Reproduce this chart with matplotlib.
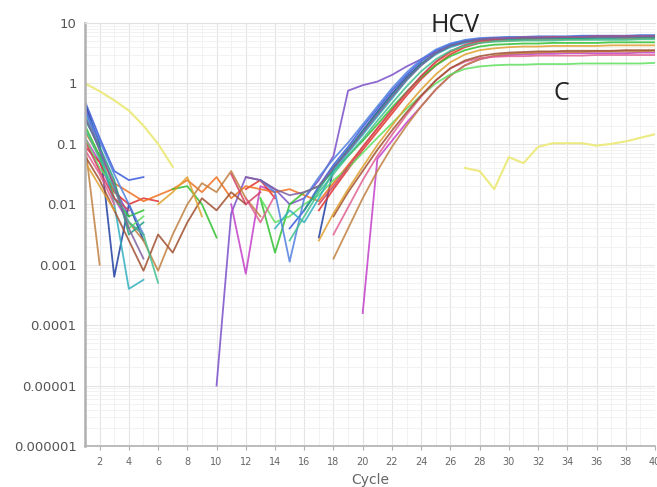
import numpy as np
import matplotlib
matplotlib.use("Agg")
import matplotlib.pyplot as plt
from matplotlib.ticker import FixedLocator, LogLocator, NullFormatter

N = np.nan

cycles = np.arange(1, 41)

# log10 of the fluorescence, cycles 1-16 (baseline noise)
# and cycles 17-40 (amplification), NaN where the trace is not drawn
hcv_colors = [
    "#3b5bdb", "#1f3fa0", "#7a4fc9", "#c23fc9", "#e03030", "#f07020",
    "#c08040", "#30c030", "#60e060", "#30b0c0", "#20a080", "#e06090",
    "#a05030", "#5080e0", "#d04060", "#40c090", "#8060a0", "#e0a030",
]

hcv_noise = [
    [-0.3, -0.9, -1.45, -1.6, -1.55, N, N, N, N, N, N, N, N, N, -2.4, -2.1],
    [-0.35, -1.0, -3.2, -2.0, -2.6, N, N, N, N, N, N, N, N, N, N, N],
    [-0.4, -1.1, -1.7, -2.2, N, N, N, N, N, -5.0, -2.15, -1.55, -1.6, -1.75, -2.0, -1.9],
    [-0.9, -1.3, -1.9, -2.3, -2.5, N, N, N, N, N, -2.0, -3.15, -1.7, -1.8, N, N],
    [-1.05, -1.3, -1.8, -2.0, -1.9, -1.95, N, N, N, N, N, -1.75, -1.6, -1.9, N, N],
    [-0.8, -1.2, -1.65, -1.8, -1.95, -1.85, -1.75, -1.6, -1.8, -1.55, -1.9, -1.7, -1.75, -1.8, -1.75, -1.85],
    [-1.0, -3.0, N, -2.3, -2.6, -3.1, -2.5, -2.0, -1.65, -1.8, -1.45, -1.9, -2.2, N, N, N],
    [-0.7, -1.2, -1.9, -2.2, -2.1, N, -1.75, -1.7, -2.0, -2.55, N, N, -1.9, -2.8, -2.0, -1.8],
    [-0.9, -1.4, -1.7, -2.4, -2.2, N, N, N, N, N, N, N, -1.9, -2.3, -2.2, -2.0],
    [-0.5, -1.1, -2.0, -3.4, -3.25, N, N, N, N, N, N, N, N, -2.4, -2.1, -2.3],
    [-0.6, -1.05, -1.6, -2.5, -2.3, N, N, N, N, N, N, N, N, N, N, -2.1],
    [-1.1, -1.5, -2.0, N, N, N, N, N, N, N, N, -1.9, -2.3, -1.85, N, N],
    [-1.2, -1.6, -2.1, -2.6, -3.1, -2.5, -2.8, -2.3, -1.9, -2.1, -1.8, -2.0, N, N, N, N],
    [-0.45, -0.95, -1.5, -2.0, -2.5, N, N, N, N, N, N, N, -1.6, -1.8, -2.95, -1.9],
    [-0.95, -1.45, -1.9, -2.1, N, N, N, N, N, N, -1.5, -2.0, -1.8, N, N, N],
    [-0.75, -1.25, -1.75, -2.3, -2.5, -3.3, N, N, N, N, N, N, N, N, -2.6, -2.2],
    [-0.55, -1.1, -1.7, -2.4, -2.9, N, N, N, N, N, N, -1.55, -1.6, -1.75, -1.85, -1.8],
    [-1.3, -1.7, -2.1, N, N, -2.0, -1.8, -1.55, -2.2, N, N, N, N, N, N, N],
]

hcv_amp = [
    [-1.7, -1.35, -1.05, -0.72, -0.42, -0.12, 0.14, 0.37, 0.54, 0.65, 0.71, 0.74, 0.75, 0.76, 0.76, 0.77, 0.77, 0.77, 0.78, 0.78, 0.78, 0.78, 0.79, 0.79],
    [-2.55, -1.4, -1.1, -0.78, -0.47, -0.17, 0.1, 0.33, 0.5, 0.62, 0.69, 0.72, 0.74, 0.75, 0.75, 0.75, 0.76, 0.76, 0.76, 0.76, 0.77, 0.77, 0.77, 0.77],
    [-1.6, -1.2, -0.12, -0.03, 0.03, 0.14, 0.28, 0.4, 0.52, 0.62, 0.69, 0.73, 0.75, 0.76, 0.76, 0.77, 0.77, 0.77, 0.78, 0.78, 0.78, 0.78, 0.78, 0.79],
    [N, N, N, -3.8, -1.25, -0.95, -0.65, -0.38, -0.1, 0.13, 0.3, 0.4, 0.45, 0.47, 0.48, 0.49, 0.49, 0.5, 0.5, 0.5, 0.5, 0.5, 0.51, 0.51],
    [-2.1, -1.75, -1.42, -1.1, -0.8, -0.5, -0.2, 0.07, 0.3, 0.48, 0.6, 0.67, 0.71, 0.73, 0.74, 0.75, 0.75, 0.76, 0.76, 0.76, 0.77, 0.77, 0.77, 0.78],
    [-1.95, -1.65, -1.35, -1.05, -0.75, -0.45, -0.15, 0.12, 0.35, 0.52, 0.62, 0.68, 0.7, 0.71, 0.72, 0.72, 0.73, 0.73, 0.73, 0.74, 0.74, 0.74, 0.74, 0.75],
    [N, -2.9, -2.4, -1.9, -1.45, -1.05, -0.7, -0.38, -0.1, 0.13, 0.3, 0.4, 0.46, 0.49, 0.5, 0.51, 0.52, 0.52, 0.52, 0.53, 0.53, 0.53, 0.53, 0.54],
    [-1.7, -1.45, -1.2, -0.95, -0.68, -0.4, -0.14, 0.1, 0.3, 0.45, 0.55, 0.61, 0.64, 0.65, 0.66, 0.66, 0.67, 0.67, 0.67, 0.67, 0.68, 0.68, 0.68, 0.68],
    [-1.85, -1.6, -1.4, -1.15, -0.9, -0.66, -0.42, -0.2, 0.0, 0.15, 0.24, 0.28, 0.3, 0.31, 0.31, 0.32, 0.32, 0.32, 0.33, 0.33, 0.33, 0.33, 0.33, 0.34],
    [-1.9, -1.45, -1.15, -0.85, -0.55, -0.25, 0.05, 0.3, 0.48, 0.6, 0.67, 0.71, 0.72, 0.73, 0.74, 0.74, 0.74, 0.75, 0.75, 0.75, 0.75, 0.76, 0.76, 0.76],
    [-1.75, -1.4, -1.1, -0.8, -0.5, -0.2, 0.07, 0.32, 0.5, 0.62, 0.69, 0.72, 0.73, 0.74, 0.74, 0.75, 0.75, 0.75, 0.75, 0.76, 0.76, 0.76, 0.76, 0.76],
    [N, -2.5, -2.05, -1.6, -1.2, -0.85, -0.52, -0.22, 0.05, 0.25, 0.36, 0.42, 0.44, 0.45, 0.45, 0.46, 0.46, 0.46, 0.46, 0.47, 0.47, 0.47, 0.47, 0.47],
    [N, -2.2, -1.8, -1.45, -1.1, -0.78, -0.48, -0.2, 0.05, 0.25, 0.38, 0.45, 0.49, 0.51, 0.52, 0.53, 0.53, 0.54, 0.54, 0.54, 0.54, 0.55, 0.55, 0.55],
    [-1.55, -1.25, -0.98, -0.68, -0.38, -0.08, 0.18, 0.4, 0.56, 0.66, 0.72, 0.75, 0.76, 0.77, 0.77, 0.78, 0.78, 0.78, 0.79, 0.79, 0.79, 0.79, 0.8, 0.8],
    [-2.0, -1.7, -1.38, -1.05, -0.74, -0.44, -0.15, 0.12, 0.36, 0.53, 0.64, 0.7, 0.73, 0.75, 0.76, 0.76, 0.77, 0.77, 0.77, 0.78, 0.78, 0.78, 0.78, 0.78],
    [-1.8, -1.5, -1.2, -0.92, -0.62, -0.33, -0.05, 0.2, 0.4, 0.54, 0.62, 0.67, 0.69, 0.7, 0.71, 0.71, 0.71, 0.72, 0.72, 0.72, 0.72, 0.72, 0.73, 0.73],
    [-1.7, -1.4, -1.12, -0.82, -0.52, -0.22, 0.06, 0.3, 0.5, 0.62, 0.69, 0.73, 0.75, 0.75, 0.76, 0.76, 0.76, 0.77, 0.77, 0.77, 0.77, 0.77, 0.78, 0.78],
    [-2.6, -2.15, -1.75, -1.38, -1.02, -0.7, -0.38, -0.1, 0.15, 0.35, 0.48, 0.55, 0.58, 0.6, 0.61, 0.61, 0.62, 0.62, 0.62, 0.62, 0.63, 0.63, 0.63, 0.63],
]

# negative control (yellow)
control_log = [0.0, -0.13, -0.28, -0.45, -0.7, -1.0, -1.38, N, N, N,
               N, N, N, N, N, N, N, N, N, N,
               N, N, N, N, N, N, -1.4, -1.45, -1.75, -1.22,
               -1.32, -1.05, -0.99, -0.99, -0.99, -1.03, -1.0, -0.96, -0.9, -0.84]
control_color = "#ecea80"

y_ticks = [1e-6, 1e-5, 1e-4, 1e-3, 1e-2, 1e-1, 1, 10]
y_tick_labels = ["0.000001", "0.00001", "0.0001", "0.001", "0.01", "0.1", "1", "10"]
x_ticks = list(range(2, 41, 2))

fig = plt.figure(figsize=(6.57, 4.87), dpi=100)
ax = fig.add_axes([0.1294, 0.0842, 0.8676, 0.8686])

for color, noise, amp in zip(hcv_colors, hcv_noise, hcv_amp):
    vals = np.power(10.0, np.array(noise + amp))
    ax.plot(cycles, vals, color=color, linewidth=1.3, alpha=0.85)

ax.plot(cycles, np.power(10.0, np.array(control_log)), color=control_color,
        linewidth=1.5)

ax.set_yscale("log")
ax.set_ylim(1e-6, 10)
ax.set_xlim(1, 40)

ax.yaxis.set_major_locator(FixedLocator(y_ticks))
ax.set_yticklabels(y_tick_labels)
ax.yaxis.set_minor_locator(LogLocator(base=10, subs=np.arange(2, 10)))
ax.yaxis.set_minor_formatter(NullFormatter())
ax.set_xticks(x_ticks)
ax.set_xticks(range(1, 41), minor=True)

ax.grid(which="major", color="#e4e4e4", linewidth=0.8)
ax.grid(which="minor", color="#f0f0f0", linewidth=0.6)
ax.set_axisbelow(True)

ax.spines["right"].set_visible(False)
ax.spines["top"].set_color("#e0e0e0")
ax.spines["left"].set_color("#b0b0b0")
ax.spines["left"].set_linewidth(1.8)
ax.spines["bottom"].set_color("#b0b0b0")
ax.spines["bottom"].set_linewidth(1.2)

ax.tick_params(axis="y", which="major", labelsize=9.5, labelcolor="#555555",
               length=0, pad=6)
ax.tick_params(axis="y", which="minor", length=0)
ax.tick_params(axis="x", which="major", labelsize=7, labelcolor="#666666",
               length=3, color="#b0b0b0", pad=5)
ax.tick_params(axis="x", which="minor", length=0)

ax.set_xlabel("Cycle", fontsize=10, color="#666666", labelpad=4)

fig.text(0.6925, 0.934, "HCV", fontsize=18, color="#222222", ha="center",
         va="baseline", family="Open Sans")
fig.text(0.854, 0.795, "C", fontsize=18, color="#222222", ha="center",
         va="baseline", family="Open Sans")

fig.savefig("out.png", dpi=100)
